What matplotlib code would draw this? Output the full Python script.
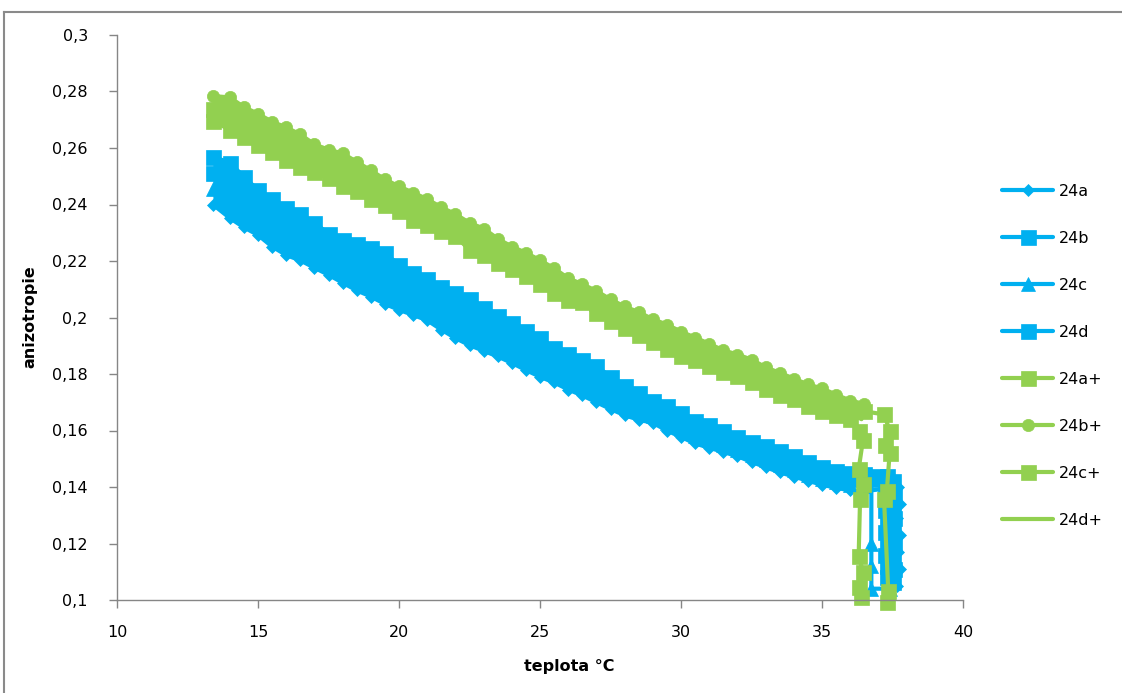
import matplotlib
matplotlib.use("Agg")
import matplotlib.pyplot as plt
from matplotlib.lines import Line2D

plt.rcParams["font.family"] = ["DejaVu Sans"]

BLUE = "#00B0F0"
GREEN = "#92D050"
AXIS_GREY = "#868686"

# temperature readings shared by the main part of every run (°C)
temp_grid = [13.4, 14.0, 14.5, 15.0, 15.5, 16.0, 16.5, 17.0, 17.5, 18.0,
             18.5, 19.0, 19.5, 20.0, 20.5, 21.0, 21.5, 22.0, 22.5, 23.0,
             23.5, 24.0, 24.5, 25.0, 25.5, 26.0, 26.5, 27.0, 27.5, 28.0,
             28.5, 29.0, 29.5, 30.0, 30.5, 31.0, 31.5, 32.0, 32.5, 33.0,
             33.5, 34.0, 34.5, 35.0, 35.5, 36.0]

# anisotropy, samples 24a-24d
r24a = [.2400, .2352, .2319, .2292, .2251, .2221, .2202, .2176, .2151, .2123,
        .2096, .2074, .2048, .2027, .2009, .1990, .1957, .1927, .1902, .1882,
        .1862, .1839, .1814, .1790, .1770, .1745, .1724, .1700, .1676, .1654,
        .1638, .1627, .1600, .1577, .1554, .1539, .1524, .1509, .1489, .1470,
        .1452, .1437, .1422, .1408, .1397, .1388]
r24b = [.2569, .2548, .2498, .2451, .2419, .2387, .2365, .2335, .2297, .2276,
        .2261, .2245, .2228, .2186, .2156, .2135, .2107, .2085, .2066, .2032,
        .2006, .1979, .1953, .1928, .1892, .1872, .1851, .1828, .1790, .1758,
        .1733, .1706, .1685, .1663, .1632, .1621, .1599, .1577, .1559, .1546,
        .1529, .1510, .1489, .1472, .1458, .1449]
r24c = [.2456, .2417, .2379, .2345, .2307, .2276, .2256, .2229, .2200, .2174,
        .2151, .2131, .2108, .2080, .2058, .2038, .2007, .1980, .1957, .1932,
        .1910, .1886, .1860, .1836, .1811, .1787, .1766, .1743, .1714, .1689,
        .1670, .1653, .1628, .1606, .1580, .1566, .1549, .1532, .1512, .1495,
        .1478, .1461, .1444, .1429, .1417, .1408]
r24d = [.2513, .2483, .2438, .2398, .2363, .2332, .2311, .2282, .2248, .2225,
        .2206, .2188, .2168, .2133, .2107, .2087, .2057, .2032, .2011, .1982,
        .1958, .1932, .1907, .1882, .1851, .1830, .1809, .1785, .1752, .1723,
        .1701, .1680, .1657, .1634, .1606, .1594, .1574, .1554, .1536, .1521,
        .1503, .1486, .1467, .1451, .1438, .1429]

# anisotropy, samples 24a+-24c+
r24ap = [.2697, .2664, .2639, .2612, .2587, .2559, .2533, .2514, .2493, .2465,
         .2447, .2420, .2399, .2377, .2345, .2327, .2305, .2289, .2239, .2222,
         .2193, .2170, .2146, .2117, .2087, .2063, .2056, .2017, .1989, .1962,
         .1937, .1915, .1889, .1864, .1849, .1828, .1806, .1792, .1772, .1747,
         .1725, .1710, .1687, .1669, .1655, .1642]
r24bp = [.2784, .2779, .2745, .2721, .2693, .2673, .2648, .2613, .2594, .2581,
         .2551, .2521, .2489, .2464, .2442, .2419, .2390, .2366, .2335, .2315,
         .2279, .2251, .2229, .2203, .2174, .2139, .2118, .2094, .2064, .2039,
         .2019, .1994, .1975, .1950, .1929, .1907, .1884, .1869, .1851, .1824,
         .1804, .1784, .1763, .1749, .1727, .1706]
r24cp = [.2738, .2719, .2689, .2664, .2637, .2613, .2588, .2561, .2541, .2520,
         .2496, .2468, .2441, .2418, .2391, .2370, .2345, .2325, .2284, .2266,
         .2233, .2208, .2185, .2157, .2128, .2098, .2084, .2053, .2024, .1998,
         .1975, .1952, .1929, .1904, .1886, .1865, .1842, .1828, .1809, .1783,
         .1762, .1744, .1722, .1706, .1688, .1671]

# end of each run: heating stops near 37 °C and anisotropy falls
t24a_end = [36.5, 37.7, 37.75, 37.65, 37.75, 37.7, 37.75, 37.65]
r24a_end = [.1385, .1400, .1340, .1290, .1230, .1170, .1110, .1050]
t24b_end = [36.5, 37.0, 37.3, 37.25, 37.3, 37.25, 37.3, 37.25, 37.3, 37.25,
            37.3, 37.3]
r24b_end = [.1447, .1440, .1440, .1400, .1360, .1320, .1280, .1240, .1200,
            .1160, .1120, .1080]
t24c_end = [36.5, 36.75, 36.75, 36.75, 36.75, 37.4]
r24c_end = [.1405, .1430, .1200, .1120, .1040, .1040]
t24d_end = [36.7, 37.5, 37.55, 37.5, 37.55, 37.5, 37.55, 37.5, 37.55, 37.5]
r24d_end = [.1430, .1420, .1380, .1335, .1290, .1245, .1200, .1155, .1110,
            .1065]

t24ap_end = [36.3, 36.45, 36.3, 36.45, 36.35, 36.3, 36.45, 36.3, 36.4]
r24ap_end = [.1600, .1565, .1463, .1410, .1357, .1157, .1100, .1045, .1009]
t24bp_end = [36.5]
r24bp_end = [.1694]
t24cp_end = [36.5, 37.2, 37.4, 37.25, 37.4, 37.3, 37.2, 37.35, 37.3]
r24cp_end = [.1668, .1657, .1600, .1550, .1522, .1387, .1356, .1033, .0992]

# 24d+ (line only)
t24dp = [13.4, 15.5, 17.5, 19.5, 21.5, 23.5, 25.5, 27.5, 29.5, 31.5, 33.5,
         35.5, 36.4]
r24dp = [.2740, .2640, .2545, .2445, .2348, .2236, .2130, .2027, .1932, .1845,
         .1765, .1690, .1640]

labels = ["24a", "24b", "24c", "24d", "24a+", "24b+", "24c+", "24d+"]

x_ticks = [10, 15, 20, 25, 30, 35, 40]
y_ticks = [0.10, 0.12, 0.14, 0.16, 0.18, 0.20, 0.22, 0.24, 0.26, 0.28, 0.30]
y_tick_labels = ["0,1", "0,12", "0,14", "0,16", "0,18", "0,2", "0,22",
                 "0,24", "0,26", "0,28", "0,3"]

W, H = 1122, 693
fig = plt.figure(figsize=(W / 100, H / 100), dpi=100)
ax = fig.add_axes([117 / W, 1 - 600 / H, (963 - 117) / W, (600 - 35) / H])

# the densely sampled runs overlap into solid bands between the outer runs
ax.fill_between(temp_grid, r24a, r24b, color=BLUE, lw=0, zorder=1.5)

series = [
    (temp_grid + t24a_end, r24a + r24a_end, BLUE, "D", 6.3),
    (temp_grid + t24b_end, r24b + r24b_end, BLUE, "s", 10.8),
    (temp_grid + t24c_end, r24c + r24c_end, BLUE, "^", 10),
    (temp_grid + t24d_end, r24d + r24d_end, BLUE, "s", 10.8),
    (temp_grid + t24ap_end, r24ap + r24ap_end, GREEN, "s", 10.8),
    (temp_grid + t24bp_end, r24bp + r24bp_end, GREEN, "o", 8.8),
    (temp_grid + t24cp_end, r24cp + r24cp_end, GREEN, "s", 10.8),
    (t24dp, r24dp, GREEN, None, 0),
]

handles = []
for i, ((xs, ys, col, mk, ms), lab) in enumerate(zip(series, labels)):
    ln, = ax.plot(xs, ys, color=col, lw=3.0, marker=mk, markersize=ms,
                  markerfacecolor=col, markeredgecolor=col,
                  markeredgewidth=0.5, label=lab, clip_on=False,
                  solid_capstyle="round", zorder=2 + 0.01 * i)
    handles.append(ln)
    if lab == "24d":
        ax.fill_between(temp_grid, r24ap, r24bp, color=GREEN, lw=0,
                        zorder=2.035)

ax.set_xlim(10, 40)
ax.set_ylim(0.1, 0.3)
ax.set_xticks(x_ticks)
ax.set_xticklabels([str(v) for v in x_ticks])
ax.set_yticks(y_ticks)
ax.set_yticklabels(y_tick_labels)

for side in ("top", "right"):
    ax.spines[side].set_visible(False)
for side in ("left", "bottom"):
    ax.spines[side].set_color(AXIS_GREY)
    ax.spines[side].set_linewidth(1.0)

ax.tick_params(axis="both", direction="out", length=6, width=1,
               color=AXIS_GREY, labelsize=11.5, labelcolor="black")
ax.tick_params(axis="y", pad=15)
ax.tick_params(axis="x", pad=12)

fig.text(30 / W, 1 - 317 / H, "anizotropie", rotation=90, fontsize=11.5,
         fontweight="bold", ha="center", va="center")
fig.text(569 / W, 1 - 667 / H, "teplota °C", fontsize=11.5,
         fontweight="bold", ha="center", va="center")

fig.legend(handles=handles, labels=labels, loc="upper left",
           bbox_to_anchor=(1002 / W, 1 - 184 / H), frameon=False,
           fontsize=11.5, handlelength=3.2, handletextpad=0.35,
           labelspacing=2.0, borderpad=0, borderaxespad=0)

# chart-area frame
frame_col = "#8a8a8a"
fig.add_artist(Line2D([4 / W, 4 / W], [0, 1 - 12 / H], transform=fig.transFigure,
                      color=frame_col, lw=1.5))
fig.add_artist(Line2D([4 / W, 1], [1 - 12 / H, 1 - 12 / H],
                      transform=fig.transFigure, color=frame_col, lw=1.5))

fig.savefig("out.png", dpi=100)
